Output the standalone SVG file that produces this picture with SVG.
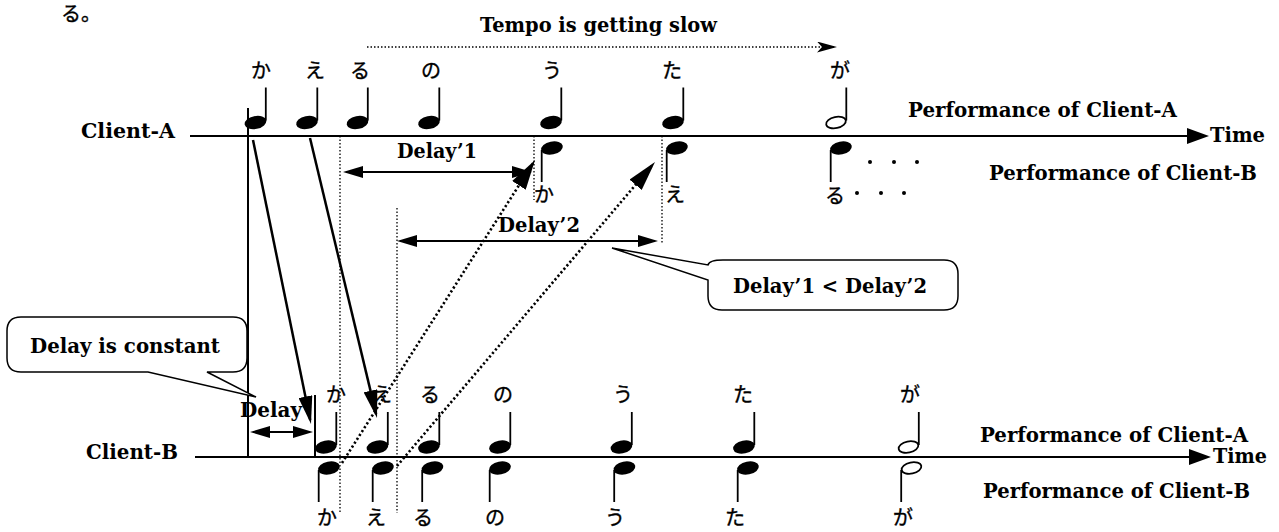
<svg xmlns="http://www.w3.org/2000/svg" xmlns:xlink="http://www.w3.org/1999/xlink" width="1279" height="532" viewBox="0 0 1279 532">
<style>
.lbl{font-family:"DejaVu Serif","Liberation Serif",serif;font-weight:bold;font-size:19.5px;fill:#000}
.kana{font-family:"Noto Sans CJK JP","Noto Sans CJK SC",sans-serif;font-size:20px;fill:#000;stroke:#000;stroke-width:0.35;text-anchor:middle}
.axis{stroke:#000;stroke-width:2;fill:none}
.solid{stroke:#000;stroke-width:2.5;fill:none}
.dotv{stroke:#000;stroke-width:1.3;stroke-dasharray:1.5 2;fill:none}
.dotarr{stroke:#000;stroke-width:2.6;stroke-dasharray:2.2 2.4;fill:none}
.dim{stroke:#000;stroke-width:2;fill:none}
.callout{fill:#fff;stroke:#000;stroke-width:1.5}
.stem{stroke:#000;stroke-width:1.8}
</style>
<defs>
<marker id="axisHead" markerUnits="userSpaceOnUse" markerWidth="22" markerHeight="16" refX="18" refY="8" orient="auto"><path d="M0,0 L22,8 L0,16 Z" fill="#000"/></marker>
<marker id="bigHead" markerUnits="userSpaceOnUse" markerWidth="28" markerHeight="14" refX="24" refY="7" orient="auto"><path d="M0,0 L28,7 L0,14 Z" fill="#000"/></marker>
<marker id="dotHead" markerUnits="userSpaceOnUse" markerWidth="30" markerHeight="16" refX="26" refY="8" orient="auto"><path d="M0,0 L30,8 L0,16 Z" fill="#000"/></marker>
<marker id="dimHead" markerUnits="userSpaceOnUse" markerWidth="20" markerHeight="12" refX="17" refY="6" orient="auto-start-reverse"><path d="M0,0 L20,6 L0,12 Z" fill="#000"/></marker>
<marker id="stealth" markerUnits="userSpaceOnUse" markerWidth="20" markerHeight="11" refX="18" refY="5.5" orient="auto"><path d="M0,0 L20,5.5 L0,11 L5,5.5 Z" fill="#000"/></marker>
<g id="qUp"><ellipse rx="11" ry="6.5" transform="rotate(-12)" fill="#000"/><line class="stem" x1="10.3" y1="-2" x2="10.3" y2="-35"/></g>
<g id="hUp"><ellipse rx="10" ry="5.6" transform="rotate(-12)" fill="#fff" stroke="#000" stroke-width="1.8"/><line class="stem" x1="10.3" y1="-2" x2="10.3" y2="-35"/></g>
<g id="qDown"><ellipse rx="11" ry="6.5" transform="rotate(-12)" fill="#000"/><line class="stem" x1="-10.3" y1="2" x2="-10.3" y2="34"/></g>
<g id="hDown"><ellipse rx="10" ry="5.6" transform="rotate(-12)" fill="#fff" stroke="#000" stroke-width="1.8"/><line class="stem" x1="-10.3" y1="2" x2="-10.3" y2="34"/></g>
</defs>
<rect width="1279" height="532" fill="#fff"/>

<text class="kana" x="61" y="21" style="text-anchor:start">る。</text>

<g id="tempo">
<line x1="367" y1="47" x2="835" y2="47" class="dotv" marker-end="url(#stealth)"/>
<text class="lbl" x="480" y="32" textLength="237" lengthAdjust="spacingAndGlyphs">Tempo is getting slow</text>
</g>

<g id="client-a">
<text class="lbl" x="81" y="138" textLength="94" lengthAdjust="spacingAndGlyphs">Client-A</text>
<line x1="190" y1="136" x2="1205" y2="136" class="axis" marker-end="url(#axisHead)"/>
<text class="lbl" x="1210" y="142" textLength="55" lengthAdjust="spacingAndGlyphs">Time</text>
<text class="lbl" x="908" y="117" textLength="269" lengthAdjust="spacingAndGlyphs">Performance of Client-A</text>
<text class="lbl" x="989" y="180" textLength="268" lengthAdjust="spacingAndGlyphs">Performance of Client-B</text>
</g>

<g id="client-a-notes">
<use xlink:href="#qUp" x="255.5" y="122.5"/>
<use xlink:href="#qUp" x="307" y="122.5"/>
<use xlink:href="#qUp" x="357.5" y="122.5"/>
<use xlink:href="#qUp" x="429" y="122.5"/>
<use xlink:href="#qUp" x="551" y="122.5"/>
<use xlink:href="#qUp" x="673" y="122.5"/>
<use xlink:href="#hUp" x="836" y="122.5"/>
<text class="kana" x="261" y="78">か</text>
<text class="kana" x="315" y="78">え</text>
<text class="kana" x="360" y="78">る</text>
<text class="kana" x="431" y="78">の</text>
<text class="kana" x="552" y="78">う</text>
<text class="kana" x="672" y="78">た</text>
<text class="kana" x="840" y="78">が</text>
<use xlink:href="#qDown" x="552" y="148"/>
<use xlink:href="#qDown" x="677" y="148"/>
<use xlink:href="#qDown" x="841" y="148"/>
<text class="kana" x="544" y="202">か</text>
<text class="kana" x="675" y="202">え</text>
<text class="kana" x="835" y="203">る</text>
<circle cx="870" cy="162" r="2"/><circle cx="894" cy="162" r="2"/><circle cx="917" cy="162" r="2"/>
<circle cx="857" cy="193" r="2"/><circle cx="881" cy="193" r="2"/><circle cx="904" cy="193" r="2"/>
</g>

<g id="client-b">
<text class="lbl" x="86" y="459" textLength="92" lengthAdjust="spacingAndGlyphs">Client-B</text>
<line x1="195" y1="457" x2="1207" y2="457" class="axis" marker-end="url(#axisHead)"/>
<text class="lbl" x="1213" y="463" textLength="54" lengthAdjust="spacingAndGlyphs">Time</text>
<text class="lbl" x="980" y="442" textLength="268" lengthAdjust="spacingAndGlyphs">Performance of Client-A</text>
<text class="lbl" x="983" y="498" textLength="267" lengthAdjust="spacingAndGlyphs">Performance of Client-B</text>
</g>

<g id="client-b-notes">
<use xlink:href="#qUp" x="326" y="447"/>
<use xlink:href="#qUp" x="377.5" y="447"/>
<use xlink:href="#qUp" x="429" y="447"/>
<use xlink:href="#qUp" x="500" y="447"/>
<use xlink:href="#qUp" x="621.5" y="447"/>
<use xlink:href="#qUp" x="744" y="447"/>
<use xlink:href="#hUp" x="908.5" y="447"/>
<text class="kana" x="336" y="402">か</text>
<text class="kana" x="382" y="402">え</text>
<text class="kana" x="430" y="402">る</text>
<text class="kana" x="503" y="402">の</text>
<text class="kana" x="623" y="402">う</text>
<text class="kana" x="743" y="402">た</text>
<text class="kana" x="910" y="402">が</text>
<use xlink:href="#qDown" x="329" y="468"/>
<use xlink:href="#qDown" x="383" y="468"/>
<use xlink:href="#qDown" x="432.5" y="468"/>
<use xlink:href="#qDown" x="500" y="468"/>
<use xlink:href="#qDown" x="624.5" y="468"/>
<use xlink:href="#qDown" x="748" y="468"/>
<use xlink:href="#hDown" x="911.5" y="468"/>
<text class="kana" x="327" y="525">か</text>
<text class="kana" x="376" y="525">え</text>
<text class="kana" x="423" y="525">る</text>
<text class="kana" x="495" y="525">の</text>
<text class="kana" x="615" y="525">う</text>
<text class="kana" x="735" y="525">た</text>
<text class="kana" x="903" y="525">が</text>
</g>

<g id="markers">
<line x1="248" y1="108" x2="248" y2="457" class="axis"/>
<line x1="315" y1="395" x2="315" y2="457" class="axis"/>
<line x1="340" y1="136" x2="340" y2="512" class="dotv"/>
<line x1="397" y1="208" x2="397" y2="513" class="dotv"/>
<line x1="534" y1="136" x2="534" y2="200" class="dotv"/>
<line x1="662" y1="136" x2="662" y2="243" class="dotv"/>
</g>

<g id="connectors">
<line x1="253" y1="140" x2="310.2" y2="420.1" class="solid" marker-end="url(#bigHead)"/>
<line x1="310" y1="138" x2="376.1" y2="414.1" class="solid" marker-end="url(#bigHead)"/>
<line x1="342" y1="463" x2="532.9" y2="163.4" class="dotarr" marker-end="url(#dotHead)"/>
<line x1="397" y1="466" x2="652.4" y2="165" class="dotarr" marker-end="url(#dotHead)"/>
<line x1="346" y1="172" x2="529" y2="172" class="dim" marker-start="url(#dimHead)" marker-end="url(#dimHead)"/>
<line x1="400" y1="241" x2="655" y2="241" class="dim" marker-start="url(#dimHead)" marker-end="url(#dimHead)"/>
<line x1="253" y1="432" x2="310" y2="432" class="dim" marker-start="url(#dimHead)" marker-end="url(#dimHead)"/>
</g>

<g id="delay-labels">
<text class="lbl" x="397" y="158" textLength="80" lengthAdjust="spacingAndGlyphs">Delay’1</text>
<text class="lbl" x="498" y="232" textLength="82" lengthAdjust="spacingAndGlyphs">Delay’2</text>
</g>

<g id="callout-constant">
<path class="callout" d="M21,317 H233 Q247,317 247,331 V358 Q247,372 233,372 H207 L256,397 L148,372 H21 Q7,372 7,358 V331 Q7,317 21,317 Z"/>
<text class="lbl" x="30" y="353" textLength="190" lengthAdjust="spacingAndGlyphs">Delay is constant</text>
</g>

<g id="delay-label">
<text class="lbl" x="240" y="417" textLength="62" lengthAdjust="spacingAndGlyphs">Delay</text>
</g>

<g id="callout-compare">
<path class="callout" d="M723,260 H944 Q958,260 958,274 V296 Q958,310 944,310 H722 Q708,310 708,296 V280 L612,248 L708,265 Q709,260 723,260 Z"/>
<text class="lbl" x="733" y="293" textLength="194" lengthAdjust="spacingAndGlyphs">Delay’1 &lt; Delay’2</text>
</g>
</svg>
